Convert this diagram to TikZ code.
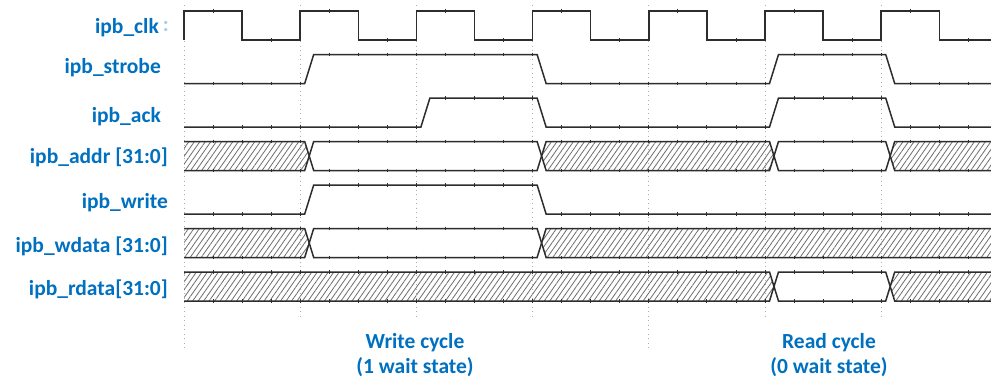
\documentclass[tikz,border=0pt]{standalone}
\usepackage{fontspec}
\setmainfont{Carlito}
\usetikzlibrary{patterns.meta}
\definecolor{lblue}{RGB}{0,112,192}
\definecolor{wave}{RGB}{45,45,45}
\definecolor{hatch}{RGB}{110,110,110}
\definecolor{gridc}{RGB}{175,175,175}

\newcommand\segS[4]{%
  \path[#4] (184,#1) -- ({#3-4.5},#1) -- (#3,{(#1+#2)/2}) -- ({#3-4.5},#2) -- (184,#2) -- cycle;
  \draw[wv] (184,#1) -- ({#3-4.5},#1) -- (#3,{(#1+#2)/2}) -- ({#3-4.5},#2) -- (184,#2);}
\newcommand\segM[5]{%
  \path[#5] (#3,{(#1+#2)/2}) -- ({#3+4.5},#1) -- ({#4-4.5},#1) -- (#4,{(#1+#2)/2}) -- ({#4-4.5},#2) -- ({#3+4.5},#2) -- cycle;
  \draw[wv] (#3,{(#1+#2)/2}) -- ({#3+4.5},#1) -- ({#4-4.5},#1) -- (#4,{(#1+#2)/2}) -- ({#4-4.5},#2) -- ({#3+4.5},#2) -- cycle;}
\newcommand\segE[4]{%
  \path[#4] (991,#1) -- ({#3+4.5},#1) -- (#3,{(#1+#2)/2}) -- ({#3+4.5},#2) -- (991,#2) -- cycle;
  \draw[wv] (991,#1) -- ({#3+4.5},#1) -- (#3,{(#1+#2)/2}) -- ({#3+4.5},#2) -- (991,#2);}
% ticks on a horizontal line at y=#1 between x=#2 and x=#3
\newcommand\tks[3]{%
  \foreach \kk in {0,...,27}{%
    \pgfmathsetmacro\xx{184+29.05*\kk}%
    \pgfmathparse{and(\xx>#2+2,\xx<#3-2)}%
    \ifdim\pgfmathresult pt>0.5pt \draw[tk] (\xx,{#1-1.8}) -- (\xx,{#1+1.8});\fi}}

\begin{document}
\begin{tikzpicture}[x=1pt,y=-1pt,
  wv/.style={draw=wave,line width=1.5pt,line join=miter},
  lbl/.style={text=lblue,font=\fontsize{21.5}{25}\selectfont\bfseries,inner sep=0pt,anchor=base east},
  captxt/.style={text=lblue,font=\fontsize{21.5}{25}\selectfont\bfseries,inner sep=0pt,anchor=base},
  gridl/.style={draw=gridc,line width=0.9pt,dash pattern=on 1pt off 3.5pt},
  hat/.style={pattern={Lines[angle=55,distance=4.5pt,line width=0.8pt]},pattern color=hatch},
  vld/.style={fill=white},
  tk/.style={draw=wave,line width=0.9pt}]

\useasboundingbox (0,0) rectangle (991,380);
\fill[white] (0,0) rectangle (991,380);

% grid
\foreach \x/\e in {184/348, 300.2/318, 416.4/318, 532.6/318, 648.8/348, 765/318, 881.2/318}
  \draw[gridl] (\x,5) -- (\x,\e);

% labels
\node[lbl] (lclk) at (159,33) {ipb\_clk};
\node[lbl, text=lblue!35] (lcol) at (169,31) {:};
\node[lbl] (lstb) at (161,73) {ipb\_strobe};
\node[lbl] (lack) at (161,122) {ipb\_ack};
\node[lbl] (ladr) at (168,163) {ipb\_addr [31:0]};
\node[lbl] (lwr) at (168,208) {ipb\_write};
\node[lbl] (lwd) at (168,252) {ipb\_wdata [31:0]};
\node[lbl] (lrd) at (168,295) {ipb\_rdata[31:0]};

% captions
\node[captxt] (cw1) at (415,348) {Write cycle};
\node[captxt] (cw2) at (415,373) {(1 wait state)};
\node[captxt] (cr1) at (829,348) {Read cycle};
\node[captxt] (cr2) at (829,373) {(0 wait state)};

% clock
\draw[wv] (184,40) \foreach \k in {0,...,6} {
  -- ({184+116.2*\k},40) -- ({184+116.2*\k},11) -- ({242.1+116.2*\k},11) -- ({242.1+116.2*\k},40) } -- (991,40);
\foreach \k in {0,...,6} {
  \draw[tk] ({213.05+116.2*\k},9.2) -- ++(0,3.6);
  \draw[tk] ({271.15+116.2*\k},38.2) -- ++(0,3.6);}

% strobe
\draw[wv] (184,83.5) -- (304.7,83.5) -- (313.7,54.5) -- (537.1,54.5) -- (546.1,83.5)
  -- (769.5,83.5) -- (778.5,54.5) -- (885.7,54.5) -- (894.7,83.5) -- (991,83.5);
\tks{83.5}{184}{304.7}\tks{54.5}{313.7}{537.1}\tks{83.5}{546.1}{769.5}\tks{54.5}{778.5}{885.7}\tks{83.5}{894.7}{991}

% ack
\draw[wv] (184,127) -- (420.9,127) -- (429.9,98) -- (537.1,98) -- (546.1,127)
  -- (769.5,127) -- (778.5,98) -- (885.7,98) -- (894.7,127) -- (991,127);
\tks{127}{184}{420.9}\tks{98}{429.9}{537.1}\tks{127}{546.1}{769.5}\tks{98}{778.5}{885.7}\tks{127}{894.7}{991}

% addr
\segS{141.5}{170.5}{309.2}{hat}
\segM{141.5}{170.5}{309.2}{541.6}{vld}
\segM{141.5}{170.5}{541.6}{774}{hat}
\segM{141.5}{170.5}{774}{890.2}{vld}
\segE{141.5}{170.5}{890.2}{hat}
\foreach \yy in {141.5,170.5}{\tks{\yy}{184}{304.7}\tks{\yy}{313.7}{537.1}\tks{\yy}{546.1}{769.5}\tks{\yy}{778.5}{885.7}\tks{\yy}{894.7}{991}}

% write
\draw[wv] (184,214) -- (304.7,214) -- (313.7,185) -- (537.1,185) -- (546.1,214) -- (991,214);
\tks{214}{184}{304.7}\tks{185}{313.7}{537.1}\tks{214}{546.1}{991}

% wdata
\segS{228.5}{257.5}{309.2}{hat}
\segM{228.5}{257.5}{309.2}{541.6}{vld}
\segE{228.5}{257.5}{541.6}{hat}
\foreach \yy in {228.5,257.5}{\tks{\yy}{184}{304.7}\tks{\yy}{313.7}{537.1}\tks{\yy}{546.1}{991}}

% rdata
\segS{272}{301}{774}{hat}
\segM{272}{301}{774}{890.2}{vld}
\segE{272}{301}{890.2}{hat}
\foreach \yy in {272,301}{\tks{\yy}{184}{769.5}\tks{\yy}{778.5}{885.7}\tks{\yy}{894.7}{991}}
\end{tikzpicture}
\end{document}
